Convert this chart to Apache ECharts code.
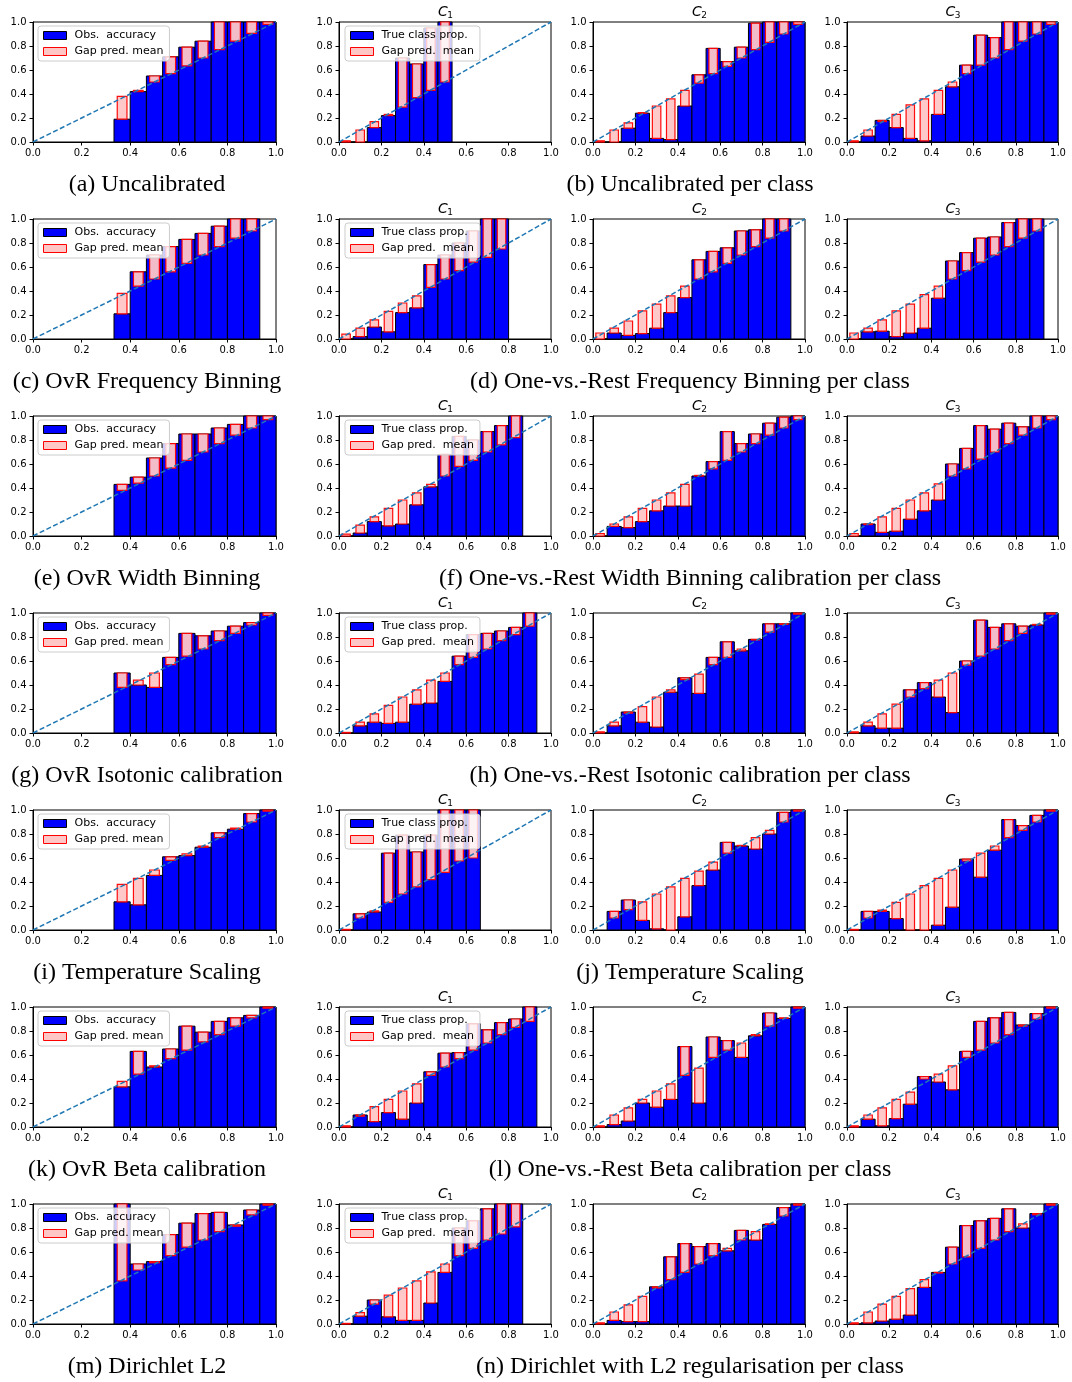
<!DOCTYPE html>
<html><head><meta charset="utf-8">
<script src="https://cdn.jsdelivr.net/npm/echarts@6/dist/echarts.min.js"></script>
<style>html,body{margin:0;padding:0;background:#fff}#c{width:1072px;height:1382px}</style>
</head><body><div id="c"></div>
<script>
// ---------- DATA (15 equal-width bins on [0,1]; null = empty bin) ----------
const N = null;
const a_obs  = [N,N,N,N,N,.19,.42,.55,.71,.79,.84,1,1,1,1];
const a_pred = [N,N,N,N,N,.38,.43,.50,.57,.635,.70,.77,.84,.905,.98];
const b1_obs  = [0,0,.12,.22,.70,.65,.95,1,N,N,N,N,N,N,N];
const b1_pred = [.01,.10,.17,.23,.29,.37,.43,.50,N,N,N,N,N,N,N];
const b2_obs  = [0,0,.115,.24,.03,.02,.30,.56,.78,.67,.79,.99,1,1,1];
const b2_pred = [.01,.10,.16,.245,.30,.36,.43,.49,.57,.63,.70,.77,.83,.90,.98];
const b3_obs  = [0,.05,.18,.12,.03,.01,.23,.46,.64,.89,.87,1,1,1,1];
const b3_pred = [.01,.10,.17,.23,.31,.36,.43,.50,.57,.64,.70,.77,.84,.90,.98];

const c_obs  = [N,N,N,N,N,.21,.56,.70,.77,.83,.88,.94,1,1,N];
const c_pred = [N,N,N,N,N,.38,.44,.50,.56,.63,.70,.77,.84,.90,N];
const d1_obs  = [0,.02,.10,.06,.22,.26,.62,.70,.80,.90,1,1,N,N,N];
const d1_pred = [.04,.09,.16,.23,.30,.36,.43,.50,.57,.64,.68,.75,N,N,N];
const d2_obs  = [0,.05,.03,.045,.09,.22,.345,.66,.73,.76,.90,.91,1,1,N];
const d2_pred = [.05,.09,.15,.235,.29,.36,.44,.50,.56,.63,.70,.77,.84,.90,N];
const d3_obs  = [0,.06,.065,.02,.05,.09,.34,.65,.72,.84,.85,.97,1,1,N];
const d3_pred = [.05,.09,.16,.235,.29,.37,.44,.50,.57,.64,.70,.77,.84,.90,N];

const e_obs  = [N,N,N,N,N,.43,.49,.65,.77,.85,.85,.90,.93,1,1];
const e_pred = [N,N,N,N,N,.38,.44,.50,.565,.63,.70,.77,.84,.90,.97];
const f1_obs  = [0,.025,.12,.085,.10,.26,.41,.68,.83,.80,.87,.92,1,N,N];
const f1_pred = [.015,.09,.16,.23,.30,.36,.43,.50,.58,.63,.70,.76,.82,N,N];
const f2_obs  = [0,.08,.07,.12,.21,.25,.25,.50,.62,.87,.77,.85,.94,.99,1];
const f2_pred = [.02,.10,.16,.23,.30,.36,.43,.505,.56,.63,.70,.77,.84,.90,.97];
const f3_obs  = [0,.10,.03,.04,.14,.21,.30,.60,.73,.92,.89,.94,.91,1,1];
const f3_pred = [.02,.095,.16,.23,.30,.36,.435,.50,.56,.64,.70,.77,.84,.90,.97];

const g_obs  = [N,N,N,N,N,.50,.40,.38,.63,.83,.81,.85,.89,.92,1];
const g_pred = [N,N,N,N,N,.38,.44,.50,.57,.64,.70,.77,.83,.90,.98];
const h1_obs  = [0,.06,.09,.08,.09,.24,.25,.43,.64,.82,.83,.85,.88,1,N];
const h1_pred = [.005,.09,.16,.23,.30,.36,.44,.50,.57,.63,.70,.77,.82,.89,N];
const h2_obs  = [0,.06,.175,.09,.05,.34,.46,.33,.63,.76,.685,.78,.91,.91,1];
const h2_pred = [.01,.09,.165,.22,.30,.36,.445,.49,.57,.63,.70,.775,.84,.905,.99];
const h3_obs  = [0,.06,.04,.04,.36,.42,.30,.17,.60,.94,.88,.91,.89,.90,1];
const h3_pred = [.01,.09,.16,.24,.30,.37,.44,.50,.565,.64,.70,.77,.83,.905,.99];

const i_obs  = [N,N,N,N,N,.235,.21,.455,.61,.62,.69,.81,.84,.97,1];
const i_pred = [N,N,N,N,N,.38,.43,.50,.58,.635,.70,.77,.85,.90,.99];
const j1_obs  = [0,.135,.15,.64,.79,.65,.79,1,1,1,N,N,N,N,N];
const j1_pred = [.005,.10,.16,.23,.30,.36,.42,.48,.575,.60,N,N,N,N,N];
const j2_obs  = [N,.155,.25,.08,.01,0,.11,.37,.50,.73,.70,.675,.80,.98,1];
const j2_pred = [N,.10,.17,.235,.30,.36,.43,.49,.565,.64,.705,.77,.83,.90,.99];
const j3_obs  = [0,.155,.155,.095,0,0,.04,.19,.59,.44,.665,.92,.87,.955,1];
const j3_pred = [.005,.10,.165,.23,.30,.37,.43,.50,.575,.64,.70,.77,.83,.90,.99];

const k_obs  = [N,N,N,N,N,.335,.63,.50,.65,.84,.79,.88,.91,.93,1];
const k_pred = [N,N,N,N,N,.38,.44,.51,.57,.64,.71,.77,.84,.91,.99];
const l1_obs  = [0,.10,.045,.12,.065,.20,.46,.615,.62,.86,.81,.87,.90,1,N];
const l1_pred = [.01,.09,.17,.23,.30,.36,.43,.50,.57,.64,.70,.77,.83,.88,N];
const l2_obs  = [0,.02,.05,.20,.165,.23,.67,.20,.75,.72,.58,.76,.95,.905,1];
const l2_pred = [.01,.10,.16,.23,.30,.36,.43,.49,.58,.64,.70,.77,.84,.91,.99];
const l3_obs  = [0,.065,.01,.07,.19,.42,.375,.31,.63,.88,.91,.955,.85,.945,1];
const l3_pred = [.01,.10,.16,.23,.29,.40,.44,.51,.58,.64,.70,.77,.84,.90,.99];

const m_obs  = [N,N,N,N,N,1,.50,.52,.745,.84,.92,.93,.825,.95,1];
const m_pred = [N,N,N,N,N,.36,.45,.51,.57,.64,.70,.77,.815,.91,.99];
const n1_obs  = [0,.065,.20,.06,.03,.03,.175,.43,.80,.86,.96,1,1,N,N];
const n1_pred = [.005,.095,.165,.24,.30,.36,.435,.50,.57,.63,.70,.75,.81,N,N];
const n2_obs  = [0,.03,.02,.02,.31,.56,.67,.645,.67,.61,.78,.70,.83,.97,1];
const n2_pred = [.01,.10,.16,.23,.30,.37,.43,.50,.57,.63,.70,.77,.835,.90,.99];
const n3_obs  = [0,.01,.025,.04,.075,.305,.43,.64,.82,.86,.88,.96,.80,.92,1];
const n3_pred = [.01,.10,.165,.23,.295,.37,.425,.50,.56,.63,.70,.77,.835,.91,.99];

const CAPTIONS_LEFT  = ['(a) Uncalibrated','(c) OvR Frequency Binning','(e) OvR Width Binning','(g) OvR Isotonic calibration','(i) Temperature Scaling','(k) OvR Beta calibration','(m) Dirichlet L2'];
const CAPTIONS_RIGHT = ['(b) Uncalibrated per class','(d) One-vs.-Rest Frequency Binning per class','(f) One-vs.-Rest Width Binning calibration per class','(h) One-vs.-Rest Isotonic calibration per class','(j) Temperature Scaling','(l) One-vs.-Rest Beta calibration per class','(n) Dirichlet with L2 regularisation per class'];
const CLASS_TITLES = ['1','2','3'];

const ROWS = [
  [[a_obs,a_pred],[b1_obs,b1_pred],[b2_obs,b2_pred],[b3_obs,b3_pred]],
  [[c_obs,c_pred],[d1_obs,d1_pred],[d2_obs,d2_pred],[d3_obs,d3_pred]],
  [[e_obs,e_pred],[f1_obs,f1_pred],[f2_obs,f2_pred],[f3_obs,f3_pred]],
  [[g_obs,g_pred],[h1_obs,h1_pred],[h2_obs,h2_pred],[h3_obs,h3_pred]],
  [[i_obs,i_pred],[j1_obs,j1_pred],[j2_obs,j2_pred],[j3_obs,j3_pred]],
  [[k_obs,k_pred],[l1_obs,l1_pred],[l2_obs,l2_pred],[l3_obs,l3_pred]],
  [[m_obs,m_pred],[n1_obs,n1_pred],[n2_obs,n2_pred],[n3_obs,n3_pred]]
];

// ---------- LAYOUT ----------
const NB = 15;
const EDGES = Array.from({length: NB + 1}, (_, i) => i / NB);
const COL_LEFT = [33, 339, 593, 847];
const COL_W = [243, 212, 212, 211];
const ROW_TOP0 = 22, ROW_STEP = 197, PH = 120;
const GAP_FRAC = 0.6;
const BLUE = '#0000ff', PINK = '#ffc6c6', RED = '#ff0000', DIAG = '#1f77b4';
const TICKFONT = 'DejaVu Sans';

const grids = [], xAxes = [], yAxes = [], series = [], legends = [], graphics = [];

function blueItem(params, api) {
  const p0 = api.coord([api.value(0), 0]);
  const p1 = api.coord([api.value(1), api.value(2)]);
  return {type: 'rect', shape: {x: p0[0], y: p1[1], width: p1[0] - p0[0], height: p0[1] - p1[1]},
          style: {fill: BLUE, stroke: '#000', lineWidth: 1}};
}
function gapItem(params, api) {
  const lo = Math.min(api.value(2), api.value(3)), hi = Math.max(api.value(2), api.value(3));
  const p0 = api.coord([api.value(0), lo]);
  const p1 = api.coord([api.value(1), hi]);
  return {type: 'rect', shape: {x: p0[0], y: p1[1], width: p1[0] - p0[0], height: Math.max(p0[1] - p1[1], 0.5)},
          style: {fill: PINK, stroke: RED, lineWidth: 1.2, opacity: 0.95}};
}

ROWS.forEach((row, r) => {
  const top = ROW_TOP0 + ROW_STEP * r;
  row.forEach((panel, c) => {
    const gi = grids.length;
    const [obs, pred] = panel;
    grids.push({left: COL_LEFT[c], top: top, width: COL_W[c], height: PH, show: true,
                borderColor: '#000', borderWidth: 1, backgroundColor: 'rgba(0,0,0,0)'});
    const axisCommon = {
      gridIndex: gi, type: 'value', min: 0, max: 1, interval: 0.2,
      axisLine: {show: true, onZero: false, lineStyle: {color: '#000', width: 1}},
      axisTick: {show: true, length: 3.5, inside: false, lineStyle: {color: '#000', width: 1}},
      splitLine: {show: false},
      axisLabel: {formatter: v => v.toFixed(1), fontSize: 10, color: '#000', fontFamily: TICKFONT, margin: 6.5}
    };
    xAxes.push(Object.assign({}, axisCommon));
    yAxes.push(Object.assign({}, axisCommon));

    const blueName = c === 0 ? 'Obs.  accuracy' : 'True class prop.';
    const gapName = c === 0 ? 'Gap pred. mean' : 'Gap pred.  mean';
    const blueData = [], gapData = [];
    for (let i = 0; i < NB; i++) {
      if (obs[i] === null) continue;
      blueData.push([EDGES[i], EDGES[i + 1], obs[i]]);
      const mid = (EDGES[i] + EDGES[i + 1]) / 2, hw = (EDGES[i + 1] - EDGES[i]) * GAP_FRAC / 2;
      gapData.push([mid - hw, mid + hw, obs[i], pred[i]]);
    }
    series.push({type: 'custom', name: blueName, xAxisIndex: gi, yAxisIndex: gi, renderItem: blueItem,
                 data: blueData, encode: {x: [0, 1], y: [2]}, itemStyle: {color: BLUE}, z: 2, silent: true});
    series.push({type: 'custom', name: gapName, xAxisIndex: gi, yAxisIndex: gi, renderItem: gapItem,
                 data: gapData, encode: {x: [0, 1], y: [2, 3]}, itemStyle: {color: PINK}, z: 3, silent: true});
    series.push({type: 'line', xAxisIndex: gi, yAxisIndex: gi, data: [[0, 0], [1, 1]], symbol: 'none',
                 lineStyle: {color: DIAG, width: 1.5, type: [5, 2.5]}, z: 4, silent: true, animation: false});

    if (c <= 1) {
      legends.push({
        orient: 'vertical', left: COL_LEFT[c] + (c === 0 ? 5 : 6), top: top + 4,
        itemWidth: 23, itemHeight: 8, itemGap: 5, padding: [4, 6, 4, 5],
        backgroundColor: 'rgba(255,255,255,0.8)', borderColor: '#cccccc', borderWidth: 1, borderRadius: 3,
        selectedMode: false,
        textStyle: {fontSize: 11, fontFamily: TICKFONT, color: '#000', padding: [0, 0, 0, 3]},
        data: [
          {name: blueName, icon: 'rect', itemStyle: {color: BLUE, borderColor: '#000', borderWidth: 1}},
          {name: gapName, icon: 'rect', itemStyle: {color: PINK, borderColor: RED, borderWidth: 1}}
        ]
      });
    }
    if (c >= 1) {
      const cx = COL_LEFT[c] + COL_W[c] / 2;
      graphics.push({type: 'text', x: cx - 2, y: top - 10, silent: true,
        style: {text: 'C', font: 'italic 14px "DejaVu Sans"', fill: '#000', align: 'center', verticalAlign: 'middle'}});
      graphics.push({type: 'text', x: cx + 5, y: top - 6, silent: true,
        style: {text: CLASS_TITLES[c - 1], font: '9px "DejaVu Sans"', fill: '#000', align: 'center', verticalAlign: 'middle'}});
    }
  });
  graphics.push({type: 'text', x: 147, y: top + 163, silent: true,
    style: {text: CAPTIONS_LEFT[r], font: '24px "Liberation Serif"', fill: '#000', align: 'center', verticalAlign: 'middle'}});
  graphics.push({type: 'text', x: 690, y: top + 163, silent: true,
    style: {text: CAPTIONS_RIGHT[r], font: '24px "Liberation Serif"', fill: '#000', align: 'center', verticalAlign: 'middle'}});
});

const chart = echarts.init(document.getElementById('c'), null, {renderer: 'canvas'});
chart.setOption({
  animation: false,
  backgroundColor: '#fff',
  grid: grids, xAxis: xAxes, yAxis: yAxes, series: series, legend: legends,
  graphic: graphics
});
</script></body></html>
